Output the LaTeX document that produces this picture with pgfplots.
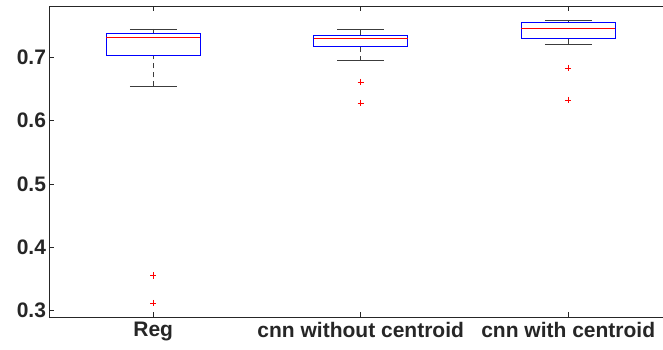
\documentclass[border=0pt]{standalone}
\usepackage{pgfplots}
\pgfplotsset{compat=1.18}
\usepgfplotslibrary{statistics}
\usepackage{fontspec}
\setmainfont{Liberation Sans}
\definecolor{axgray}{RGB}{38,38,38}
\definecolor{whisk}{RGB}{60,60,60}
\definecolor{mred}{RGB}{255,0,0}
\definecolor{mblue}{RGB}{0,0,255}
\begin{document}
\begin{tikzpicture}
\begin{axis}[
  width=613.5pt, height=310.5pt, scale only axis,
  xmin=0.5, xmax=3.457, ymin=0.2898, ymax=0.78,
  separate axis lines,
  axis x line*=box, axis y line*=left,
  xtick pos=both, ytick pos=left,
  xtick={1,2,3},
  xticklabels={Reg,cnn without centroid,cnn with centroid},
  ytick={0.3,0.4,0.5,0.6,0.7},
  yticklabel style={/pgf/number format/fixed,/pgf/number format/precision=1,/pgf/number format/fixed zerofill},
  /pgf/number format/assume math mode=true,
  tick align=inside,
  major tick length=5pt,
  ticklabel style={font=\fontsize{21}{24}\selectfont\bfseries, text=axgray},
  xticklabel style={yshift=-2pt},
  axis line style={axgray, line width=0.6pt},
  major tick style={draw=axgray, line width=0.7pt},
  boxplot/draw direction=y,
  boxplot/box extend=0.453,
  boxplot/whisker extend=0.225,
  boxplot/draw/box/.code={%
    \draw[draw=mblue, line width=0.8pt]
      (boxplot box cs:\pgfplotsboxplotvalue{lower quartile},0) rectangle
      (boxplot box cs:\pgfplotsboxplotvalue{upper quartile},1);
  },
  boxplot/draw/median/.code={%
    \draw[draw=mred, line width=1pt]
      (boxplot box cs:\pgfplotsboxplotvalue{median},0) --
      (boxplot box cs:\pgfplotsboxplotvalue{median},1);
  },
  boxplot/draw/lower whisker/.code={%
    \draw[draw=whisk, line width=0.7pt, dash pattern=on 5pt off 4pt]
      (boxplot box cs:\pgfplotsboxplotvalue{lower whisker},0.5) --
      (boxplot box cs:\pgfplotsboxplotvalue{lower quartile},0.5);
    \draw[draw=whisk, line width=0.7pt]
      (boxplot whisker cs:\pgfplotsboxplotvalue{lower whisker},0) --
      (boxplot whisker cs:\pgfplotsboxplotvalue{lower whisker},1);
  },
  boxplot/draw/upper whisker/.code={%
    \draw[draw=whisk, line width=0.7pt, dash pattern=on 5pt off 4pt]
      (boxplot box cs:\pgfplotsboxplotvalue{upper whisker},0.5) --
      (boxplot box cs:\pgfplotsboxplotvalue{upper quartile},0.5);
    \draw[draw=whisk, line width=0.7pt]
      (boxplot whisker cs:\pgfplotsboxplotvalue{upper whisker},0) --
      (boxplot whisker cs:\pgfplotsboxplotvalue{upper whisker},1);
  },
]
\addplot[mblue, boxplot prepared={draw position=1, median=0.7316, upper quartile=0.738,
    lower quartile=0.7025, upper whisker=0.7447, lower whisker=0.654}]
  coordinates {};
\addplot[mblue, boxplot prepared={draw position=2, median=0.7289, upper quartile=0.734,
    lower quartile=0.7163, upper whisker=0.7436, lower whisker=0.6947}]
  coordinates {};
\addplot[mblue, boxplot prepared={draw position=3, median=0.7447, upper quartile=0.7552,
    lower quartile=0.7289, upper whisker=0.7578, lower whisker=0.721}]
  coordinates {};
% outliers
\addplot[only marks, mark=+, mark size=3.2pt, draw=mred, mark options={draw=mred, line width=1pt}]
  coordinates {(1,0.3553) (1,0.3117) (2,0.6605) (2,0.6274) (3,0.6826) (3,0.6321)};
\end{axis}
\pgfresetboundingbox
\path ([xshift=-49.5pt,yshift=-32pt]current axis.south west) rectangle ([yshift=6.5pt]current axis.north east);
\end{tikzpicture}
\end{document}
